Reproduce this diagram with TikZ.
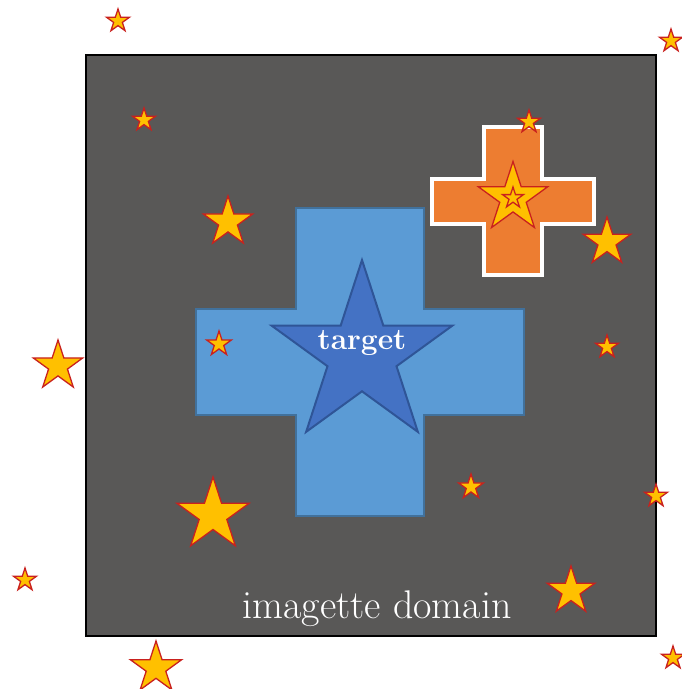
\documentclass[tikz,border=0pt]{standalone}
\usepackage{xcolor}
\usepackage{tikz}
\usetikzlibrary{shapes.geometric}
\definecolor{domaingray}{HTML}{595857}
\definecolor{crossblue}{HTML}{5B9BD5}
\definecolor{crossblueedge}{HTML}{41719C}
\definecolor{targetblue}{HTML}{4472C4}
\definecolor{targetedge}{HTML}{2F5597}
\definecolor{crossorange}{HTML}{ED7D31}
\definecolor{stargold}{HTML}{FFC000}
\definecolor{starred}{HTML}{C9211E}

\tikzset{
  goldstar/.style={star, star points=5, star point ratio=2.618, inner sep=0pt,
    outer sep=0pt, fill=stargold, draw=starred, line width=1.3pt, minimum size=#1},
  targetstar/.style={star, star points=5, star point ratio=2.618, inner sep=0pt,
    fill=targetblue, draw=targetedge, line width=2pt, minimum size=190pt},
}

\begin{document}
\begin{tikzpicture}[x=1pt, y=-1pt]
  \useasboundingbox (0,0) rectangle (681,689);
  % imagette domain
  \draw[fill=domaingray, draw=black, line width=2.5pt] (86,55) rectangle (656,636);
  \node[text=white, font=\fontsize{40}{42}\selectfont] (domainlabel) at (377,609) {imagette domain};
  % blue cross
  \draw[fill=crossblue, draw=crossblueedge, line width=2pt]
    (296,208) -- (424,208) -- (424,309) -- (524,309) -- (524,415) -- (424,415)
    -- (424,516) -- (296,516) -- (296,415) -- (196,415) -- (196,309) -- (296,309) -- cycle;
  % orange cross
  \draw[fill=crossorange, draw=white, line width=4pt]
    (484,127) -- (542,127) -- (542,179) -- (594,179) -- (594,224) -- (542,224)
    -- (542,275) -- (484,275) -- (484,224) -- (432,224) -- (432,179) -- (484,179) -- cycle;
  \node[targetstar] (target) at (362,355) {};
  \node[text=white, font=\bfseries\fontsize{30}{32}\selectfont] (targetlabel) at (362,343) {target};
  % stars
  \node[goldstar=73pt] (bigorange) at (513,198) {};
  \node[goldstar=22pt] (smallorange) at (513,198) {};
  \foreach \x/\y/\d [count=\i] in {118/21/24, 671/41/24, 144/120/24, 529/122/24,
      228/222/52, 607/242/50, 58/366/52, 219/344/26, 607/347/24, 471/487/26,
      213/515/76, 656/496/24, 25/580/24, 571/591/50, 156/668/54, 673/658/24}
    \node[goldstar=\d pt] (s\i) at (\x,\y) {};
\end{tikzpicture}
\end{document}
